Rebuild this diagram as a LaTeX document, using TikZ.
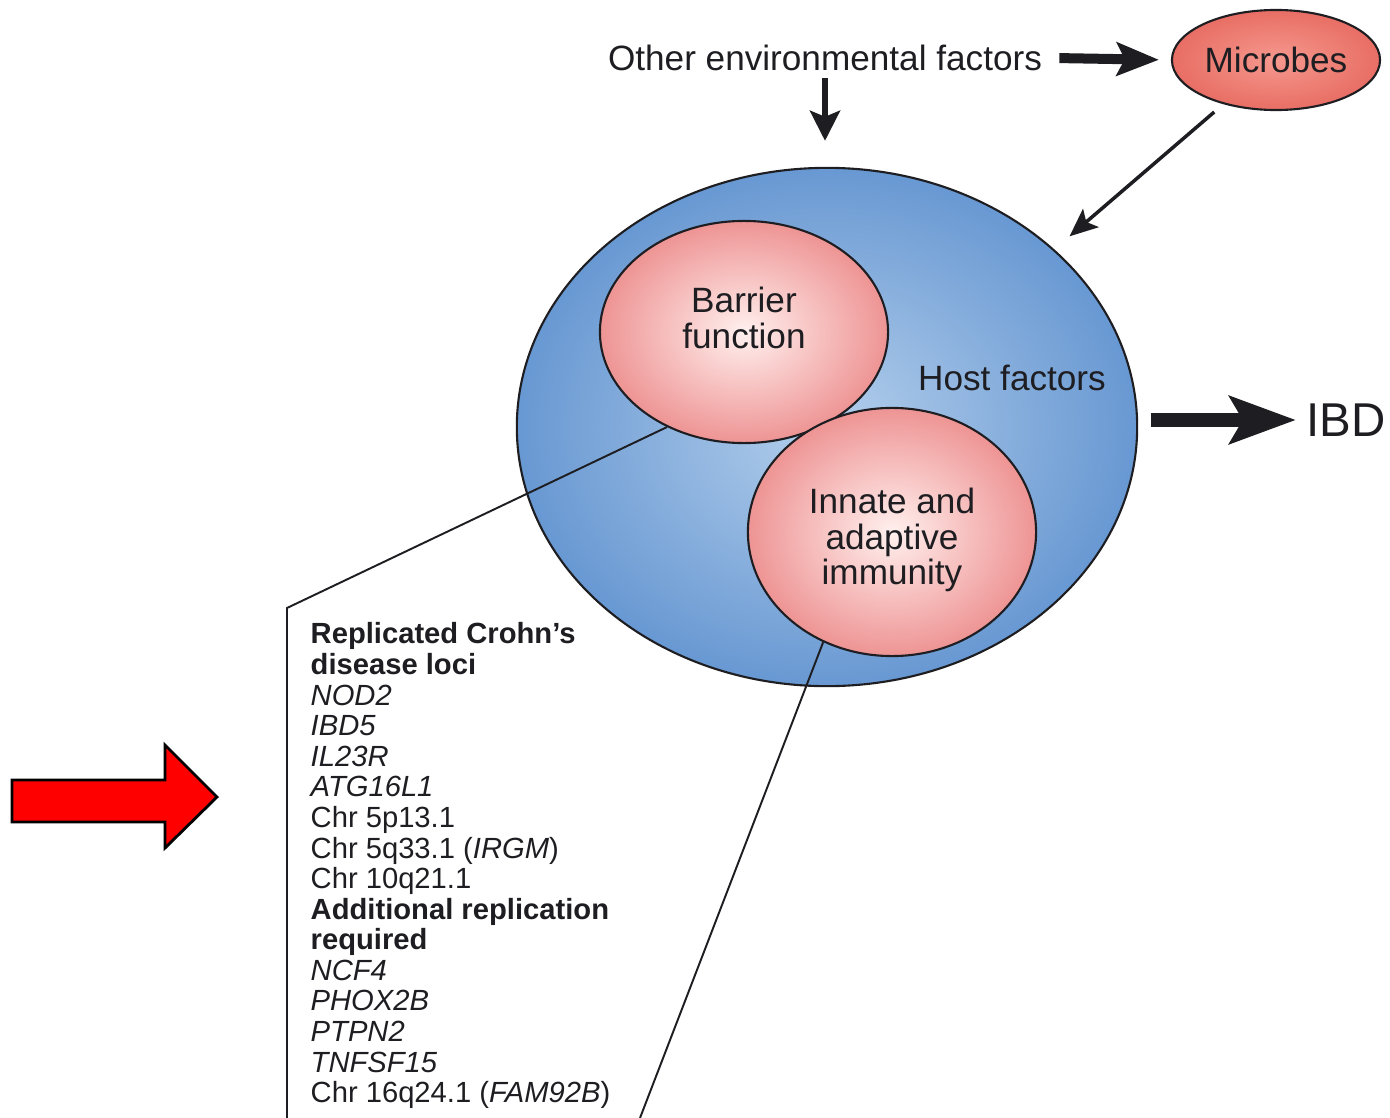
\documentclass[tikz,border=0pt]{standalone}
\usepackage{fontspec}
\setmainfont{Liberation Sans}
\usetikzlibrary{positioning}
\usetikzlibrary{arrows.meta}
\usetikzlibrary{shapes.geometric}

\definecolor{hostin}{RGB}{180,207,236}
\definecolor{hostout}{RGB}{104,152,210}
\definecolor{pinkin}{RGB}{255,240,238}
\definecolor{pinkout}{RGB}{238,148,148}
\definecolor{microin}{RGB}{246,152,142}
\definecolor{microout}{RGB}{232,110,100}
\definecolor{ink}{RGB}{30,30,34}

\begin{document}
\begin{tikzpicture}[x=0.01cm, y=-0.01cm,
        txt/.style={text=ink, align=center, font=\fontsize{10}{10.2}\selectfont},
        blob/.style={ellipse, draw=ink, line width=0.6pt, inner sep=0pt, txt},
        pinkball/.style={blob, inner color=pinkin, outer color=pinkout},
        fatarrow/.style={draw=ink, line width=0.1cm,
            -{Stealth[length=0.42cm, width=0.33cm, inset=0.08cm]}},
        downarrow/.style={draw=ink, line width=0.055cm,
            -{Stealth[length=0.3cm, width=0.3cm, inset=0.06cm]}},
        thinarrow/.style={draw=ink, line width=0.035cm,
            -{Stealth[length=0.28cm, width=0.24cm, inset=0.06cm]}},
        ibdarrow/.style={draw=ink, line width=0.14cm,
            -{Stealth[length=0.66cm, width=0.47cm, inset=0.13cm]}},
        callout/.style={draw=ink, line width=0.55pt}]
        \useasboundingbox (0,0) rectangle (1390,1118);

        \node[txt] (env) at (825,58) {Other environmental factors};
        \node[blob, inner color=microin, outer color=microout,
            minimum width=2.08cm, minimum height=1.0cm] (microbes) at (1276,60) {Microbes};

        \node[blob, inner color=hostin, outer color=hostout,
            minimum width=6.2cm, minimum height=5.18cm] (host) at (827,427) {};
        \node[txt] (hostlbl) at (1012,378) {Host factors};
        \node[pinkball, minimum width=2.88cm, minimum height=2.22cm] (barrier) at (744,332) {};
        \node[txt] (barriertxt) at ([yshift=0.14cm]barrier.center) {Barrier\\function};
        \node[pinkball, minimum width=2.88cm, minimum height=2.48cm] (immunity) at (892,532) {};
        \node[txt] (immunitytxt) at ([yshift=-0.08cm]immunity.center)
            {Innate and\\adaptive\\immunity};
        \node[txt, anchor=west, inner sep=0pt, font=\fontsize{13.5}{14}\selectfont] (ibd)
            at (1306,420) {IBD};

        \draw[fatarrow, shorten <=0.05cm, shorten >=0.12cm] (env.east) -- (microbes.west);
        \draw[downarrow, shorten <=-0.05cm, shorten >=0.26cm] (env.south) -- (env.south |- host.north);
        \draw[thinarrow, shorten <=0.12cm, shorten >=0.2cm] (microbes.220) -- (host.38);
        \draw[ibdarrow, shorten <=0.13cm, shorten >=0.1cm] (host.east |- ibd.west) -- (ibd.west);

        \coordinate (boxtl) at (287,608);
        \coordinate (boxbl) at (287,1118);
        \coordinate (boxbr) at (640,1118);
        \draw[callout] (barrier.231) -- (boxtl) -- (boxbl);
        \draw[callout] (immunity.238) -- (boxbr);

        \node[txt, anchor=north west, align=left, inner sep=0pt,
            font=\fontsize{8.3}{8.7}\selectfont] (loci) at (310,622)
            {\textbf{Replicated Crohn's}\\
            \textbf{disease loci}\\
            \textit{NOD2}\\
            \textit{IBD5}\\
            \textit{IL23R}\\
            \textit{ATG16L1}\\
            Chr 5p13.1\\
            Chr 5q33.1 (\textit{IRGM})\\
            Chr 10q21.1\\
            \textbf{Additional replication}\\
            \textbf{required}\\
            \textit{NCF4}\\
            \textit{PHOX2B}\\
            \textit{PTPN2}\\
            \textit{TNFSF15}\\
            Chr 16q24.1 (\textit{FAM92B})};

        \draw[fill=red, draw=black, line width=0.8pt, line join=miter]
            (12,780) -- (165,780) -- (165,745) -- (217,797) -- (165,848)
            -- (165,822) -- (12,822) -- cycle;
\end{tikzpicture}
\end{document}
